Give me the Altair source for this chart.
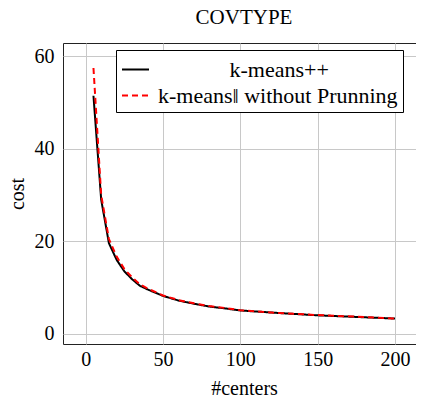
import altair as alt
import pandas as pd

centers = [5, 10, 15, 20, 25, 30, 35, 40, 50, 60, 70, 80, 90, 100, 125, 150, 175, 200]
cost_kpp = [51.5, 29.0, 19.6, 16.0, 13.5, 11.8, 10.4, 9.6, 8.2, 7.2, 6.5, 5.9, 5.5, 5.05, 4.5, 4.0, 3.65, 3.3]
cost_kpar = [57.5, 30.0, 20.5, 16.7, 14.0, 12.2, 10.7, 9.8, 8.3, 7.3, 6.6, 6.0, 5.6, 5.1, 4.5, 4.05, 3.7, 3.3]
series_names = ["k-means++", "k-means\u2016 without Prunning"]
x_ticks = [0, 50, 100, 150, 200]
y_ticks = [0, 20, 40, 60]

rows = []
for c, v in zip(centers, cost_kpp):
    rows.append({"centers": c, "cost": v, "series": series_names[0]})
for c, v in zip(centers, cost_kpar):
    rows.append({"centers": c, "cost": v, "series": series_names[1]})
df = pd.DataFrame(rows)

FONT = "Liberation Serif"
# the reference centres the first legend entry; a zero-width space keeps the
# no-break spaces from being trimmed away by Vega
CENTER_PAD = "\u200b" + "\u00a0" * 13

leg = alt.Legend(
    title=None,
    orient="none",
    legendX=53,
    legendY=7,
    strokeColor="black",
    fillColor="white",
    padding=5,
    symbolType="stroke",
    symbolSize=729,
    symbolStrokeWidth=2,
    labelFont=FONT,
    labelFontSize=22,
    labelColor="black",
    labelOffset=8,
    rowPadding=0,
    labelLimit=400,
    labelExpr="datum.value == 'k-means++' ? '" + CENTER_PAD + "' + datum.label : datum.label",
)

chart = (
    alt.Chart(df)
    .mark_line(strokeWidth=2)
    .encode(
        x=alt.X(
            "centers:Q",
            scale=alt.Scale(domain=[-14.7, 219.4], nice=False, zero=False),
            axis=alt.Axis(values=x_ticks, title="#centers", labelPadding=5, titlePadding=9),
        ),
        y=alt.Y(
            "cost:Q",
            scale=alt.Scale(domain=[-2.2, 62.9], nice=False, zero=False),
            axis=alt.Axis(values=y_ticks, title="cost", labelPadding=9, titlePadding=7),
        ),
        color=alt.Color(
            "series:N",
            scale=alt.Scale(domain=series_names, range=["black", "red"]),
            legend=leg,
        ),
        strokeDash=alt.StrokeDash(
            "series:N",
            scale=alt.Scale(domain=series_names, range=[[1, 0], [6, 4]]),
            legend=leg,
        ),
    )
    .properties(
        width=362,
        height=301,
        title=alt.Title("COVTYPE", font=FONT, fontSize=21, fontWeight="normal", color="black", offset=15),
        autosize=alt.AutoSizeParams(type="none"),
        padding={"left": 55, "top": 35, "right": -9, "bottom": 51},
    )
    .configure_axis(
        labelFont=FONT,
        labelFontSize=20,
        labelColor="black",
        titleFont=FONT,
        titleFontSize=20,
        titleFontWeight="normal",
        titleColor="black",
        domain=False,
        ticks=False,
        gridColor="#c8c8c8",
        gridWidth=1,
        gridOpacity=1,
    )
    .configure_view(stroke="#222222", strokeWidth=1)
)

chart.save("out.html", embed_options={"renderer": "svg", "actions": False})
